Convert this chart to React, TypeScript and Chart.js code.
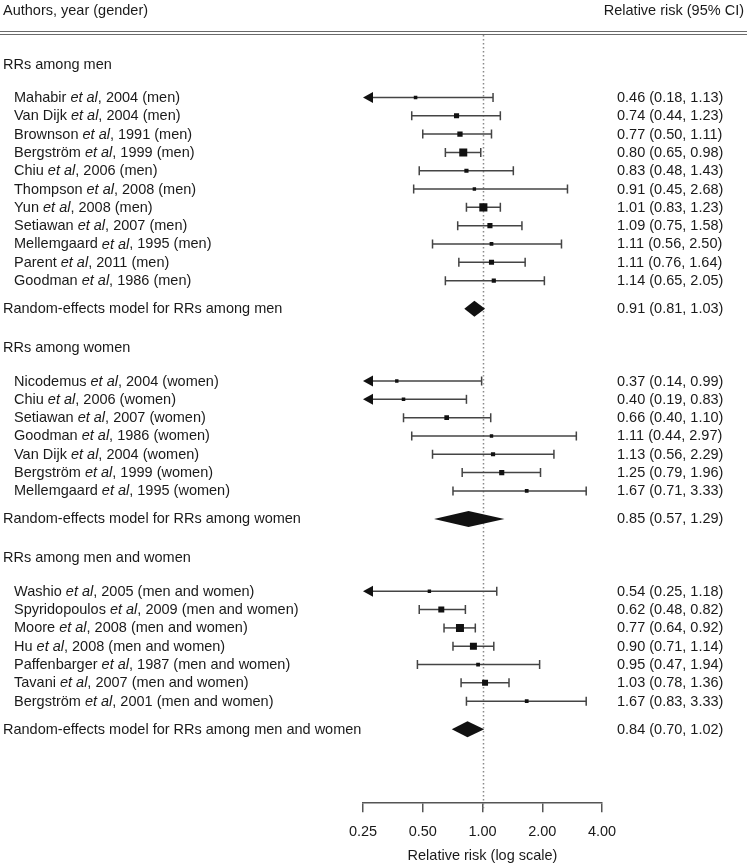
import React, { useEffect, useRef } from 'react';
import { Chart, registerables } from 'chart.js';

Chart.register(...registerables);

// ---------- DATA ----------
const menAuthors = ['Mahabir', 'Van Dijk', 'Brownson', 'Bergström', 'Chiu', 'Thompson', 'Yun', 'Setiawan', 'Mellemgaard', 'Parent', 'Goodman'];
const menYears = [2004, 2004, 1991, 1999, 2006, 2008, 2008, 2007, 1995, 2011, 1986];
const menRR = [0.46, 0.74, 0.77, 0.80, 0.83, 0.91, 1.01, 1.09, 1.11, 1.11, 1.14];
const menLo = [0.18, 0.44, 0.50, 0.65, 0.48, 0.45, 0.83, 0.75, 0.56, 0.76, 0.65];
const menHi = [1.13, 1.23, 1.11, 0.98, 1.43, 2.68, 1.23, 1.58, 2.50, 1.64, 2.05];
const menWeight = [2.6, 5.4, 5.8, 13.2, 3.6, 2.4, 13.5, 5.4, 2.9, 5.4, 3.6];
const menPooled = [0.91, 0.81, 1.03];

const womenAuthors = ['Nicodemus', 'Chiu', 'Setiawan', 'Goodman', 'Van Dijk', 'Bergström', 'Mellemgaard'];
const womenYears = [2004, 2006, 2007, 1986, 2004, 1999, 1995];
const womenRR = [0.37, 0.40, 0.66, 1.11, 1.13, 1.25, 1.67];
const womenLo = [0.14, 0.19, 0.40, 0.44, 0.56, 0.79, 0.71];
const womenHi = [0.99, 0.83, 1.10, 2.97, 2.29, 1.96, 3.33];
const womenWeight = [2.4, 2.6, 4.5, 2.4, 3.6, 5.4, 2.9];
const womenPooled = [0.85, 0.57, 1.29];

const bothAuthors = ['Washio', 'Spyridopoulos', 'Moore', 'Hu', 'Paffenbarger', 'Tavani', 'Bergström'];
const bothYears = [2005, 2009, 2008, 2008, 1987, 2007, 2001];
const bothRR = [0.54, 0.62, 0.77, 0.90, 0.95, 1.03, 1.67];
const bothLo = [0.25, 0.48, 0.64, 0.71, 0.47, 0.78, 0.83];
const bothHi = [1.18, 0.82, 0.92, 1.14, 1.94, 1.36, 3.33];
const bothWeight = [2.4, 7.4, 13.2, 10.1, 2.9, 7.4, 2.9];
const bothPooled = [0.84, 0.70, 1.02];

const groupTitles = ['RRs among men', 'RRs among women', 'RRs among men and women'];
const groupGenders = ['men', 'women', 'men and women'];
const xTicks = [0.25, 0.5, 1, 2, 4];
const xMin = 0.25;
const xMax = 4;

// ---------- STRUCTURE ----------
type Group = {
  title: string; gender: string; authors: string[]; years: number[];
  rr: number[]; lo: number[]; hi: number[]; w: number[]; pooled: number[];
};
const groups: Group[] = [
  { title: groupTitles[0], gender: groupGenders[0], authors: menAuthors, years: menYears, rr: menRR, lo: menLo, hi: menHi, w: menWeight, pooled: menPooled },
  { title: groupTitles[1], gender: groupGenders[1], authors: womenAuthors, years: womenYears, rr: womenRR, lo: womenLo, hi: womenHi, w: womenWeight, pooled: womenPooled },
  { title: groupTitles[2], gender: groupGenders[2], authors: bothAuthors, years: bothYears, rr: bothRR, lo: bothLo, hi: bothHi, w: bothWeight, pooled: bothPooled },
];

// row layout (in row units)
const GAP_HEADER_TO_FIRST = 1.82;
const GAP_LAST_TO_POOLED = 1.53;
const GAP_POOLED_TO_HEADER = 2.13;

type Row = { kind: 'header' | 'study' | 'pooled'; pos: number; g: number; i: number };
const rows: Row[] = [];
{
  let p = -GAP_HEADER_TO_FIRST;
  groups.forEach((g, gi) => {
    rows.push({ kind: 'header', pos: p, g: gi, i: -1 });
    p += GAP_HEADER_TO_FIRST;
    g.rr.forEach((_, i) => {
      rows.push({ kind: 'study', pos: p, g: gi, i });
      if (i < g.rr.length - 1) p += 1;
    });
    p += GAP_LAST_TO_POOLED;
    rows.push({ kind: 'pooled', pos: p, g: gi, i: -1 });
    p += GAP_POOLED_TO_HEADER;
  });
}
const firstPos = rows[0].pos;
const lastPos = rows[rows.length - 1].pos;
const yMin = firstPos - 1.59;
const yMax = lastPos + 4.04;

const FONT = "'Liberation Sans', Arial, Helvetica, sans-serif";
const FS = 14.5;
const fmt = (v: number) => v.toFixed(2);
const sideFromWeight = (w: number) => 2.2 * Math.sqrt(w);

const forestPlugin = {
  id: 'forest',
  beforeDatasetsDraw(chart: any) {
    const { ctx, chartArea, scales } = chart;
    const xs = scales.x, ys = scales.y;
    ctx.save();
    // dotted reference line at RR = 1
    const x1 = Math.round(xs.getPixelForValue(1)) + 0.5;
    ctx.strokeStyle = '#8a8a8a';
    ctx.lineWidth = 1.5;
    ctx.setLineDash([1.5, 2.5]);
    ctx.beginPath();
    ctx.moveTo(x1, chartArea.top);
    ctx.lineTo(x1, chartArea.bottom + 5);
    ctx.stroke();
    ctx.setLineDash([]);

    // whiskers
    ctx.strokeStyle = '#444';
    ctx.fillStyle = '#111';
    ctx.lineWidth = 1.5;
    rows.forEach((r) => {
      if (r.kind !== 'study') return;
      const g = groups[r.g];
      const y = ys.getPixelForValue(r.pos);
      const lo = g.lo[r.i], hi = g.hi[r.i];
      const arrow = lo <= xMin;
      const xl = xs.getPixelForValue(Math.max(lo, xMin));
      const xh = xs.getPixelForValue(Math.min(hi, xMax));
      ctx.beginPath();
      ctx.moveTo(arrow ? xl + 6 : xl, y);
      ctx.lineTo(xh, y);
      ctx.stroke();
      const cap = 4.5;
      ctx.beginPath();
      if (!arrow) { ctx.moveTo(xl, y - cap); ctx.lineTo(xl, y + cap); }
      ctx.moveTo(xh, y - cap); ctx.lineTo(xh, y + cap);
      ctx.stroke();
      if (arrow) {
        ctx.beginPath();
        ctx.moveTo(xl, y);
        ctx.lineTo(xl + 10, y - 5.5);
        ctx.lineTo(xl + 10, y + 5.5);
        ctx.closePath();
        ctx.fill();
      }
    });
    ctx.restore();
  },
  afterDatasetsDraw(chart: any) {
    const { ctx, scales } = chart;
    const xs = scales.x, ys = scales.y;
    ctx.save();
    ctx.fillStyle = '#111';
    rows.forEach((r) => {
      if (r.kind !== 'pooled') return;
      const [est, lo, hi] = groups[r.g].pooled;
      const y = ys.getPixelForValue(r.pos);
      const h = 8;
      ctx.beginPath();
      ctx.moveTo(xs.getPixelForValue(lo), y);
      ctx.lineTo(xs.getPixelForValue(est), y - h);
      ctx.lineTo(xs.getPixelForValue(hi), y);
      ctx.lineTo(xs.getPixelForValue(est), y + h);
      ctx.closePath();
      ctx.fill();
    });
    ctx.restore();
  },
  afterDraw(chart: any) {
    const { ctx, scales, width } = chart;
    const ys = scales.y;
    ctx.save();
    ctx.fillStyle = '#1a1a1a';
    ctx.textBaseline = 'middle';
    const normal = `${FS}px ${FONT}`;
    const italic = `italic ${FS}px ${FONT}`;
    // header
    ctx.font = normal;
    ctx.textAlign = 'left';
    ctx.fillText('Authors, year (gender)', 3, 11);
    ctx.textAlign = 'right';
    ctx.fillText('Relative risk (95% CI)', width - 3, 11);
    // double rule
    ctx.strokeStyle = '#6a6a6a';
    ctx.lineWidth = 1.2;
    ctx.beginPath();
    ctx.moveTo(0, 31.5); ctx.lineTo(width, 31.5);
    ctx.moveTo(0, 34.5); ctx.lineTo(width, 34.5);
    ctx.stroke();

    ctx.textAlign = 'left';
    const valueX = 617;
    rows.forEach((r) => {
      const g = groups[r.g];
      const y = ys.getPixelForValue(r.pos) + 0.5;
      if (r.kind === 'header') {
        ctx.font = normal;
        ctx.fillText(g.title, 3, y);
      } else if (r.kind === 'pooled') {
        ctx.font = normal;
        ctx.fillText(`Random-effects model for ${g.title}`, 3, y);
        const [e, l, h] = g.pooled;
        ctx.fillText(`${fmt(e)} (${fmt(l)}, ${fmt(h)})`, valueX, y);
      } else {
        let x = 14;
        const a = `${g.authors[r.i]} `;
        ctx.font = normal;
        ctx.fillText(a, x, y);
        x += ctx.measureText(a).width;
        ctx.font = italic;
        ctx.fillText('et al', x, y);
        x += ctx.measureText('et al').width;
        ctx.font = normal;
        ctx.fillText(`, ${g.years[r.i]} (${g.gender})`, x, y);
        ctx.fillText(`${fmt(g.rr[r.i])} (${fmt(g.lo[r.i])}, ${fmt(g.hi[r.i])})`, valueX, y);
      }
    });
    ctx.restore();
  },
};

export default function App() {
  const ref = useRef<HTMLCanvasElement | null>(null);
  useEffect(() => {
    if (!ref.current) return;
    const pts: any[] = [];
    const radii: number[] = [];
    rows.forEach((r) => {
      if (r.kind !== 'study') return;
      const g = groups[r.g];
      pts.push({ x: g.rr[r.i], y: r.pos });
      radii.push(sideFromWeight(g.w[r.i]) / Math.SQRT2);
    });
    const chart = new Chart(ref.current, {
      type: 'scatter',
      data: {
        datasets: [{
          data: pts,
          pointStyle: 'rect',
          pointRadius: radii,
          pointHoverRadius: radii,
          pointBackgroundColor: '#111',
          pointBorderWidth: 0,
          showLine: false,
        }],
      },
      options: {
        animation: false,
        responsive: false,
        events: [],
        layout: { padding: { left: 363, right: 145, top: 35, bottom: 0 } },
        plugins: { legend: { display: false }, tooltip: { enabled: false } },
        scales: {
          x: {
            type: 'logarithmic',
            min: xMin,
            max: xMax,
            afterBuildTicks: (s: any) => { s.ticks = xTicks.map((v) => ({ value: v })); },
            ticks: {
              autoSkip: false,
              maxRotation: 0,
              padding: 11,
              color: '#1a1a1a',
              font: { family: FONT, size: FS },
              callback: (v: any) => Number(v).toFixed(2),
            },
            grid: { drawOnChartArea: false, drawTicks: true, tickLength: 9, color: '#555', lineWidth: 1.5 },
            border: { display: true, color: '#555', width: 1.5 },
            title: {
              display: true,
              text: 'Relative risk (log scale)',
              color: '#1a1a1a',
              font: { family: FONT, size: FS },
              padding: { top: -4, bottom: 0 },
            },
          },
          y: { type: 'linear', reverse: true, display: false, min: yMin, max: yMax },
        },
      },
      plugins: [forestPlugin],
    });
    return () => chart.destroy();
  }, []);
  return (
    <div style={{ position: 'absolute', left: 0, top: 0, width: 747, height: 865, background: '#fff' }}>
      <canvas ref={ref} width={747} height={865} style={{ display: 'block' }} />
    </div>
  );
}
